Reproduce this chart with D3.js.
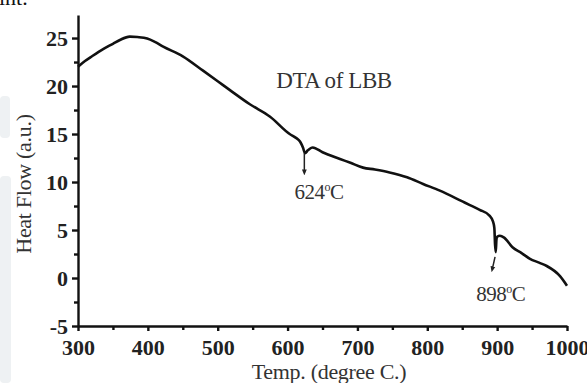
<!DOCTYPE html>
<html><head><meta charset="utf-8">
<script src="https://cdn.jsdelivr.net/npm/d3@7"></script>
<style>
body{margin:0;background:#fff;}
svg{display:block;}
.ax text{font-family:"Liberation Serif","Times New Roman",serif;font-weight:bold;font-size:22px;fill:#222;}
.ax path,.ax line{stroke:#111;stroke-width:2.4px;}
.lbl{font-family:"Liberation Serif","Times New Roman",serif;fill:#333;}
</style></head>
<body><svg id="c" width="587" height="383"></svg>
<script>
const temps = [300,310,320,336,350,360,374,385,399,410,422,450,479,500,517,546,575,603,612,618,622,625,629,636,650,675,690,708,725,746,771,794,818,851,861,875,889,894,896,897,898,899,900,904,910,922,935,947,960,971,990,1000];
const heatFlow = [22.0,22.6,23.1,23.85,24.4,24.8,25.15,25.1,24.95,24.6,24.1,23.1,21.6,20.5,19.6,18.1,16.8,15.0,14.6,14.2,13.6,13.0,13.3,13.6,13.1,12.4,12.0,11.5,11.3,11.0,10.5,9.8,9.1,7.95,7.6,7.1,6.5,5.9,5.2,3.5,2.7,4.0,4.3,4.4,4.2,3.2,2.6,2.0,1.6,1.25,0.2,-0.8];
const xTicks = [300,400,500,600,700,800,900,1000];
const xMinor = [350,450,550,650,750,850,950];
const yTicks = [-5,0,5,10,15,20,25];
const yMinor = [-2.5,2.5,7.5,12.5,17.5,22.5];
const peaks = [{t:624, v:13.0, tEnd:624, vEnd:11.0, label:"624", lt:645, lv:8.2},
               {t:897, v:2.2, tEnd:893, vEnd:0.9, label:"898", lt:905, lv:-2.4}];

const svg = d3.select("#c");
const x = d3.scaleLinear().domain([300,1000]).range([78,567]);
const y = d3.scaleLinear().domain([-5,27.4]).range([326,15]);

// faint scan artifacts
svg.append("rect").attr("x",0).attr("y",96).attr("width",10).attr("height",42).attr("rx",4).attr("fill","#eef1f3");
svg.append("rect").attr("x",0).attr("y",176).attr("width",11).attr("height",207).attr("rx",4).attr("fill","#eef1f3");
svg.append("text").attr("class","lbl").attr("x",-1).attr("y",5).style("font-size","22px").style("fill","#111").text("int.");

// axes
svg.append("g").attr("class","ax").attr("transform","translate(0,326)")
  .call(d3.axisBottom(x).tickValues(xTicks).tickFormat(d3.format("d")).tickSize(5).tickSizeOuter(0).tickPadding(8));
svg.append("g").attr("class","ax").attr("transform","translate(0,326)")
  .call(d3.axisBottom(x).tickValues(xMinor).tickFormat("").tickSize(4).tickSizeOuter(0))
  .select(".domain").remove();
const gy = svg.append("g").attr("class","ax").attr("transform","translate(78,0)")
  .call(d3.axisLeft(y).tickValues(yTicks).tickFormat(d3.format("d")).tickSize(6).tickSizeOuter(0).tickPadding(4));
svg.append("g").attr("class","ax").attr("transform","translate(78,0)")
  .call(d3.axisLeft(y).tickValues(yMinor).tickFormat("").tickSize(4).tickSizeOuter(0))
  .select(".domain").remove();
gy.selectAll("text").text(d => d < 0 ? "-" + Math.abs(d) : d);

// curve
const line = d3.line().x((d,i)=>x(temps[i])).y((d,i)=>y(heatFlow[i])).curve(d3.curveMonotoneX);
svg.append("path").datum(heatFlow).attr("d",line)
  .attr("fill","none").attr("stroke","#111").attr("stroke-width",2.6).attr("stroke-linejoin","round");

// arrows & labels
svg.append("defs").append("marker").attr("id","ah").attr("viewBox","0 0 10 10")
  .attr("refX",5).attr("refY",5).attr("markerWidth",4).attr("markerHeight",5).attr("orient","auto")
  .append("path").attr("d","M0,1 L10,5 L0,9 Z").attr("fill","#222");
peaks.forEach(p=>{
  svg.append("line").attr("x1",x(p.t)).attr("y1",y(p.v)).attr("x2",x(p.tEnd)).attr("y2",y(p.vEnd))
    .attr("stroke","#222").attr("stroke-width",1.5).attr("marker-end","url(#ah)");
  const t = svg.append("text").attr("class","lbl").attr("x",x(p.lt)).attr("y",y(p.lv))
    .attr("text-anchor","middle").style("font-size","21px").style("letter-spacing","-0.5px");
  t.append("tspan").text(p.label);
  t.append("tspan").attr("dy",-8).style("font-size","12px").text("o");
  t.append("tspan").attr("dy",8).text("C");
});

svg.append("text").attr("class","lbl").attr("x",334).attr("y",88).attr("text-anchor","middle")
  .style("font-size","23px").style("letter-spacing","-0.4px").text("DTA of LBB");
svg.append("text").attr("class","lbl").attr("x",329).attr("y",379).attr("text-anchor","middle")
  .style("font-size","22px").style("letter-spacing","-0.3px").text("Temp. (degree C.)");
svg.append("text").attr("class","lbl").attr("transform","translate(31,184) rotate(-90)").attr("text-anchor","middle")
  .style("font-size","22px").style("letter-spacing","-0.3px").text("Heat Flow (a.u.)");
</script></body></html>
